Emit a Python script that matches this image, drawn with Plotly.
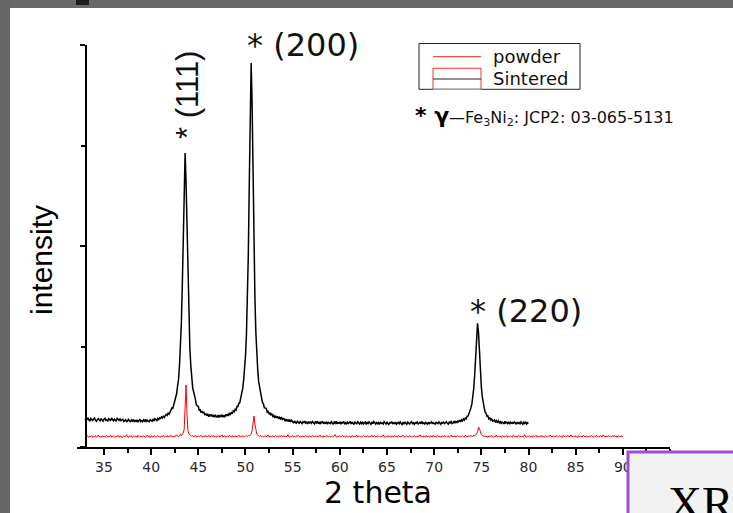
import numpy as np
import plotly.graph_objects as go

# XRD scans, 2-theta step of 0.1 degree
STEP = 0.1
SINTERED_START = 33.0
POWDER_START = 33.0

# Sintered sample, 33.0 .. 80.0 deg (one row per degree)
sintered_counts = [
    281, 262, 276, 290, 268, 259, 284, 271, 263, 279,
    288, 266, 257, 275, 283, 269, 261, 280, 272, 258,
    277, 286, 264, 270, 255, 281, 274, 262, 289, 267,
    260, 278, 271, 256, 284, 273, 265, 279, 262, 270,
    276, 254, 263, 271, 249, 266, 275, 258, 252, 269,
    258, 273, 250, 264, 255, 270, 247, 261, 277, 253,
    263, 252, 269, 257, 275, 250, 266, 259, 253, 272,
    268, 256, 277, 264, 283, 271, 262, 284, 273, 291,
    285, 300, 290, 310, 295, 312, 325, 314, 336, 326,
    352, 357, 388, 385, 425, 442, 505, 530, 606, 669,
    801, 973, 1227, 1599, 2111, 2663, 2925, 2640, 2150, 1640,
    1260, 990, 815, 690, 591, 550, 486, 471, 417, 412,
    404, 367, 371, 341, 357, 336, 350, 317, 332, 313,
    330, 301, 323, 307, 325, 300, 313, 296, 321, 302,
    298, 317, 293, 313, 303, 322, 297, 316, 297, 324,
    308, 328, 309, 340, 325, 342, 330, 359, 349, 375,
    367, 403, 403, 435, 442, 491, 530, 578, 660, 752,
    905, 1113, 1431, 1913, 2608, 3401, 3822, 3420, 2680, 1990,
    1480, 1140, 915, 762, 648, 589, 516, 494, 442, 432,
    390, 389, 384, 347, 355, 325, 342, 320, 331, 304,
    314, 290, 310, 289, 306, 280, 295, 281, 298, 269,
    284, 280, 258, 277, 260, 271, 252, 272, 255, 266,
    250, 238, 259, 244, 233, 256, 247, 236, 254, 241,
    232, 251, 243, 258, 237, 246, 229, 253, 240, 248,
    235, 255, 242, 230, 250, 239, 257, 233, 245, 228,
    249, 240, 254, 231, 244, 236, 252, 227, 246, 238,
    233, 251, 241, 226, 248, 236, 255, 230, 243, 237,
    250, 228, 245, 239, 253, 232, 241, 226, 247, 235,
    242, 254, 230, 246, 236, 224, 249, 238, 231, 252,
    237, 227, 246, 233, 251, 229, 240, 248, 225, 243,
    234, 250, 238, 226, 245, 232, 253, 236, 228, 247,
    231, 242, 224, 249, 235, 240, 228, 251, 237, 230,
    246, 233, 225, 244, 238, 252, 229, 241, 234, 248,
    227, 239, 245, 231, 250, 236, 223, 243, 232, 247,
    235, 226, 248, 237, 229, 244, 252, 233, 240, 225,
    242, 236, 249, 228, 238, 246, 231, 254, 234, 241,
    229, 245, 237, 224, 248, 233, 240, 251, 230, 243,
    236, 227, 246, 238, 232, 250, 235, 226, 244, 239,
    247, 233, 242, 251, 236, 229, 248, 240, 253, 234,
    237, 258, 242, 258, 239, 258, 251, 267, 250, 270,
    259, 280, 268, 287, 281, 307, 309, 336, 348, 389,
    429, 493, 587, 724, 914, 1119, 1230, 1140, 940, 750,
    600, 500, 425, 391, 348, 338, 306, 309, 280, 289,
    269, 281, 256, 267, 269, 244, 262, 248, 261, 241,
    253, 236, 249, 242, 230, 255, 238, 246, 233, 251,
    228, 247, 236, 244, 231, 253, 239, 226, 248, 235,
    243, 230, 250, 237, 225, 246, 234, 252, 229, 241,
    236,
]

# Starting powder, 33.0 .. 90.0 deg
powder_counts = [
    108, 99, 112, 103, 96, 110, 104, 115, 98, 106,
    101, 113, 97, 107, 118, 100, 105, 94, 111, 103,
    109, 96, 104, 114, 99, 107, 102, 120, 97, 105,
    112, 100, 95, 108, 103, 116, 98, 106, 110, 93,
    104, 111, 99, 107, 122, 101, 96, 109, 103, 114,
    97, 105, 112, 100, 108, 95, 117, 104, 99, 110,
    106, 98, 113, 102, 96, 109, 119, 101, 107, 94,
    111, 103, 99, 115, 105, 97, 108, 112, 100, 106,
    95, 110, 104, 118, 99, 107, 102, 113, 97, 109,
    105, 116, 100, 108, 96, 112, 104, 121, 107, 103,
    110, 128, 112, 124, 140, 175, 520, 617, 330, 165,
    132, 118, 112, 106, 115, 101, 109, 114, 98, 107,
    112, 100, 106, 117, 103, 96, 110, 104, 113, 99,
    108, 115, 97, 105, 111, 102, 118, 100, 106, 96,
    109, 103, 114, 98, 107, 121, 101, 105, 112, 95,
    104, 110, 99, 116, 106, 100, 113, 97, 108, 102,
    111, 96, 105, 119, 103, 109, 98, 114, 106, 101,
    108, 112, 104, 115, 110, 118, 125, 160, 268, 308,
    225, 152, 128, 118, 112, 105, 116, 102, 109, 99,
    107, 113, 100, 106, 120, 103, 97, 110, 104, 112,
    98, 105, 115, 101, 108, 95, 111, 104, 117, 100,
    106, 112, 99, 108, 103, 123, 101, 96, 109, 105,
    114, 100, 107, 97, 110, 104, 118, 102, 95, 108,
    103, 111, 99, 106, 115, 101, 108, 96, 112, 104,
    100, 117, 105, 98, 109, 103, 113, 97, 106, 120,
    102, 108, 95, 111, 104, 99, 115, 106, 101, 110,
    97, 105, 113, 100, 108, 124, 103, 96, 109, 104,
    111, 99, 106, 116, 101, 107, 98, 112, 105, 100,
    109, 103, 95, 114, 106, 100, 110, 104, 119, 98,
    105, 112, 101, 97, 108, 115, 102, 106, 99, 111,
    104, 96, 110, 103, 117, 100, 107, 113, 98, 105,
    112, 101, 106, 99, 109, 104, 121, 102, 97, 108,
    103, 114, 100, 107, 96, 111, 105, 99, 116, 102,
    108, 97, 113, 104, 100, 110, 106, 118, 101, 95,
    107, 112, 103, 99, 115, 105, 98, 109, 102, 113,
    100, 106, 96, 111, 104, 122, 101, 108, 97, 110,
    105, 99, 114, 103, 108, 96, 112, 106, 100, 117,
    102, 109, 97, 105, 113, 100, 107, 95, 111, 104,
    99, 116, 103, 108, 101, 110, 96, 105, 119, 102,
    107, 100, 112, 98, 106, 114, 103, 109, 97, 105,
    111, 104, 99, 117, 106, 101, 110, 103, 115, 108,
    112, 105, 118, 110, 125, 128, 150, 199, 182, 142,
    122, 116, 109, 104, 113, 100, 107, 98, 111, 103,
    106, 114, 101, 97, 109, 104, 120, 99, 108, 102,
    110, 96, 105, 113, 100, 107, 103, 115, 98, 106,
    101, 109, 104, 97, 118, 105, 100, 111, 96, 108,
    114, 102, 107, 99, 110, 104, 123, 101, 97, 109,
    105, 112, 100, 108, 96, 113, 103, 107, 117, 99,
    106, 101, 110, 98, 115, 104, 108, 96, 112, 103,
    100, 109, 105, 119, 102, 97, 111, 106, 99, 114,
    104, 98, 107, 112, 101, 108, 95, 116, 103, 110,
    102, 106, 113, 99, 105, 121, 100, 108, 97, 111,
    107, 103, 96, 114, 101, 109, 104, 99, 118, 105,
    100, 111, 106, 98, 112, 103, 107, 115, 101, 96,
    109, 104, 117, 102, 108, 99, 113, 105, 100, 120,
    103, 97, 110, 106, 101, 115, 104, 108, 98, 112,
    106, 119, 102, 109, 96, 113, 104, 100, 111, 107,
    103,
]

x_major_ticks = [35, 40, 45, 50, 55, 60, 65, 70, 75, 80, 85, 90, 95]
x_minor_ticks = [37.5, 42.5, 47.5, 52.5, 57.5, 62.5, 67.5, 72.5, 77.5, 82.5, 87.5, 92.5]
y_major_ticks = [0, 2000, 4000]
y_minor_ticks = [1000, 3000]

series_names = ["powder", "Sintered"]
peak_labels = ["* (111)", "* (200)", "* (220)"]
phase_note = "—Fe<sub>3</sub>Ni<sub>2</sub>: JCP2: 03-065-5131"

two_theta_sintered = np.round(SINTERED_START + STEP * np.arange(len(sintered_counts)), 2)
two_theta_powder = np.round(POWDER_START + STEP * np.arange(len(powder_counts)), 2)

# page geometry
W, H = 733, 513
L, R, T, B = 77, 63, 45, 66
PW, PH = W - L - R, H - T - B


def px(x):
    return (x - L) / PW


def py(y):
    return (H - B - y) / PH


fig = go.Figure()
fig.add_trace(go.Scatter(x=two_theta_powder, y=powder_counts, mode="lines",
                         name=series_names[0], line=dict(color="#ff0000", width=1)))
fig.add_trace(go.Scatter(x=two_theta_sintered, y=sintered_counts, mode="lines",
                         name=series_names[1], line=dict(color="#000000", width=1.5)))

axis_font = dict(family="DejaVu Sans", size=14, color="#2a2a2a")
fig.update_layout(
    width=W, height=H, autosize=False,
    margin=dict(l=L, r=R, t=T, b=B, pad=0),
    paper_bgcolor="white", plot_bgcolor="rgba(0,0,0,0)",
    showlegend=False,
    xaxis=dict(range=[32.14, 95], showgrid=False, zeroline=False,
               showline=True, linecolor="black", linewidth=1.5,
               ticks="outside", ticklen=6, tickwidth=1.5, tickcolor="black",
               tickmode="array", tickvals=x_major_ticks, tickfont=axis_font,
               minor=dict(tickmode="array", tickvals=x_minor_ticks, ticks="outside",
                          ticklen=4, tickwidth=1.5, tickcolor="black")),
    yaxis=dict(range=[0, 4000], showgrid=False, zeroline=False,
               anchor="free", position=px(86),
               showline=True, linecolor="black", linewidth=1.5,
               ticks="outside", ticklen=5, tickwidth=1.5, tickcolor="black",
               tickmode="array", tickvals=y_major_ticks, showticklabels=False,
               minor=dict(tickmode="array", tickvals=y_minor_ticks, ticks="outside",
                          ticklen=4, tickwidth=1.5, tickcolor="black")),
)

shapes = []


def rect(x0, y0, x1, y1, **kw):
    shapes.append(dict(type="rect", xref="paper", yref="paper",
                       x0=px(x0), x1=px(x1), y0=py(y1), y1=py(y0), layer="above", **kw))


def hline(x0, x1, y, color, width=1):
    shapes.append(dict(type="line", xref="paper", yref="paper",
                       x0=px(x0), x1=px(x1), y0=py(y), y1=py(y), layer="above",
                       line=dict(color=color, width=width)))


# slide frame around the chart
rect(0, 0, W, 8, fillcolor="#686868", line=dict(width=0))
rect(0, 0, 10, H, fillcolor="#666666", line=dict(width=0))
rect(76, 0, 89, 5, fillcolor="#1c1c1c", line=dict(width=0))

# legend box
rect(419, 43.5, 580, 89.3, fillcolor="white", line=dict(color="#222222", width=1))
hline(433, 481, 56.7, "#ff2020", 1)
rect(433, 68.3, 481, 89.3, fillcolor="rgba(0,0,0,0)", line=dict(color="#ff3030", width=1))
hline(433, 481, 79, "#222222", 1)
hline(433, 481, 89.3, "#40e0f0", 1)

# next slide panel in the corner
rect(628, 452, 760, 540, fillcolor="#f2f2f2", line=dict(color="#9b4fd4", width=3))

fig.update_layout(shapes=shapes)

ann = []


def text(s, x, y, size, family="DejaVu Sans", xanchor="left", yanchor="middle",
         angle=0, color="#111111"):
    ann.append(dict(text=s, xref="paper", yref="paper", x=px(x), y=py(y),
                    xanchor=xanchor, yanchor=yanchor, textangle=angle, showarrow=False,
                    font=dict(family=family, size=size, color=color)))


text(peak_labels[0], 187, 95, 31, family="Liberation Sans", xanchor="center", angle=-90)
text(peak_labels[1], 245, 45, 32)
text(peak_labels[2], 468, 311, 32)
text(series_names[0], 491, 57, 18)
text(series_names[1], 491, 78.5, 18)
text("<b>* γ</b>", 413, 115, 22, color="black")
text(phase_note, 447, 118.5, 16)
text("2 theta", 378, 492, 30, xanchor="center", color="black")
text("intensity", 41, 260, 30, family="Liberation Sans", xanchor="center", angle=-90,
     color="black")
text("XR", 666, 475, 47, family="Liberation Serif", yanchor="top", color="black")

fig.update_layout(annotations=ann)

fig.write_html("out.html")
